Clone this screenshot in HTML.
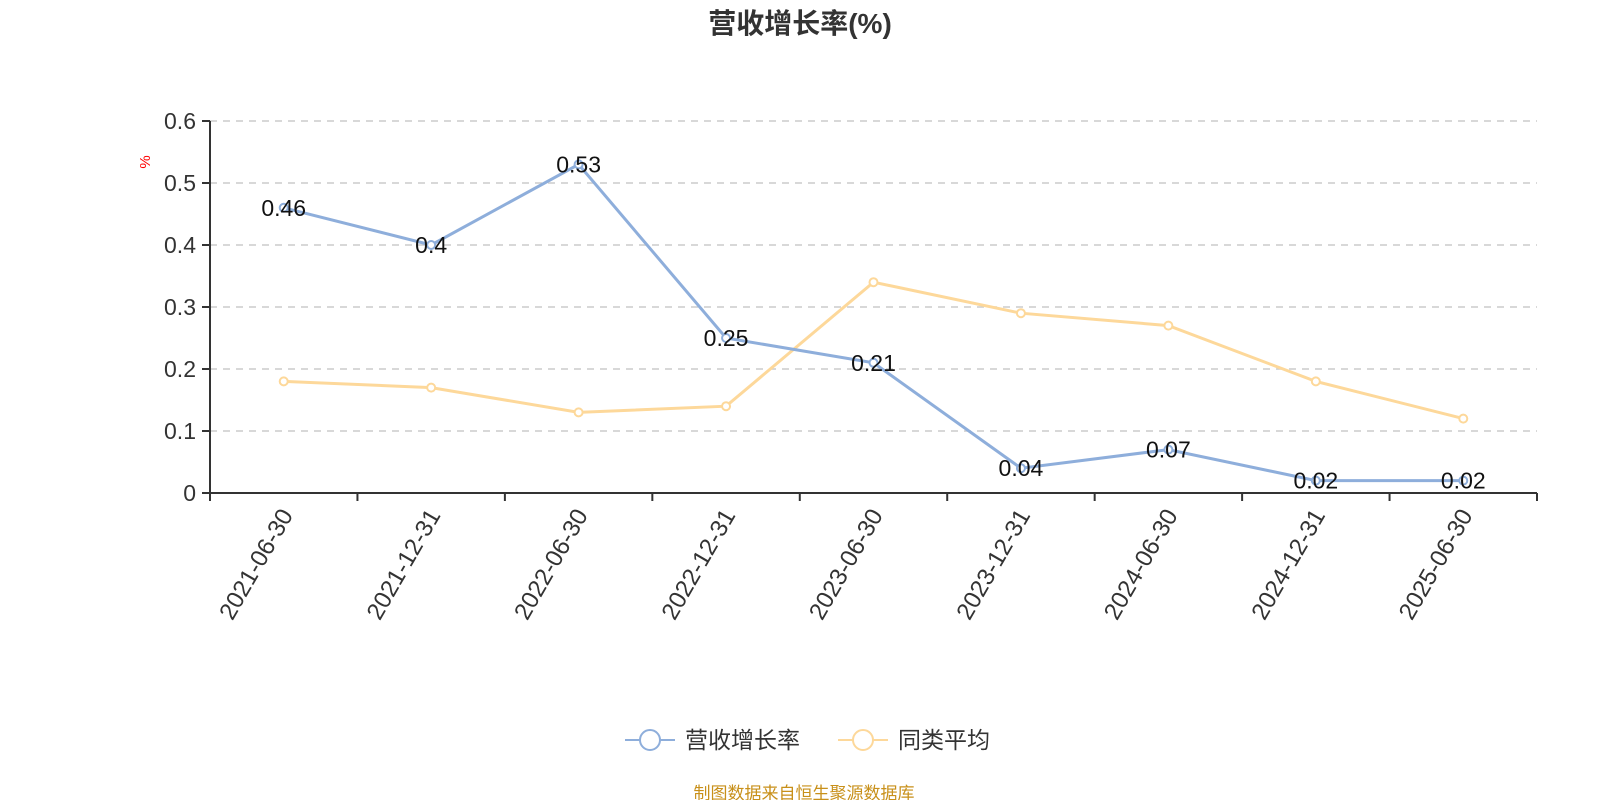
<!DOCTYPE html>
<html><head><meta charset="utf-8"><style>
body{margin:0;background:#fff;font-family:"Liberation Sans","Noto Sans CJK SC",sans-serif}
svg text{font-family:"Liberation Sans","Noto Sans CJK SC",sans-serif}
</style></head><body>
<svg id="c" width="1600" height="800" xmlns="http://www.w3.org/2000/svg">
<text x="800" y="33" text-anchor="middle" font-size="28" font-weight="bold" fill="#333">营收增长率(%)</text>
<text x="150" y="162" fill="red" font-size="15" transform="rotate(-90 150 162)" text-anchor="middle">%</text>
<g id="grid"></g><g id="axes"></g><g id="series"></g>
<g>
<g><line x1="625" y1="740" x2="675" y2="740" stroke="#8eaedb" stroke-width="2"/><circle cx="650" cy="740" r="10" fill="#fff" stroke="#8eaedb" stroke-width="2"/><text x="685" y="748" font-size="23" fill="#333">营收增长率</text></g>
<g><line x1="838" y1="740" x2="888" y2="740" stroke="#fdd89a" stroke-width="2"/><circle cx="863" cy="740" r="10" fill="#fff" stroke="#fdd89a" stroke-width="2"/><text x="898" y="748" font-size="23" fill="#333">同类平均</text></g>
</g>
<text x="804" y="799" text-anchor="middle" font-size="17" fill="#c8901a">制图数据来自恒生聚源数据库</text>
</svg>
<script>
const categories=["2021-06-30","2021-12-31","2022-06-30","2022-12-31","2023-06-30","2023-12-31","2024-06-30","2024-12-31","2025-06-30"];
const revenueGrowth=[0.46,0.4,0.53,0.25,0.21,0.04,0.07,0.02,0.02];
const peerAverage=[0.18,0.17,0.13,0.14,0.34,0.29,0.27,0.18,0.12];
const yTicks=[0,0.1,0.2,0.3,0.4,0.5,0.6];
const NS="http://www.w3.org/2000/svg";
const L=210,R=1537,T=121,B=493,yMax=0.6;
const band=(R-L)/categories.length;
const xs=i=>L+band*(i+0.5);
const ys=v=>B-(v/yMax)*(B-T);
function mk(tag,attrs,parent,txt){const e=document.createElementNS(NS,tag);for(const k in attrs)e.setAttribute(k,attrs[k]);if(txt!==undefined)e.textContent=txt;parent.appendChild(e);return e;}
const grid=document.getElementById('grid'),axes=document.getElementById('axes'),ser=document.getElementById('series');
yTicks.forEach(t=>{const y=ys(t);
 if(t>0){const g=mk('line',{x1:L,x2:R,y1:y,y2:y,stroke:'#ccc','stroke-width':1.5,'stroke-dasharray':'7,6'},grid);
 
 }
 mk('line',{x1:L-8,x2:L,y1:y,y2:y,stroke:'#333','stroke-width':2},axes);
 const tx=mk('text',{x:L-14,y:y+8,'text-anchor':'end','font-size':23,fill:'#333'},axes,String(t));
 
 
});
const ya=mk('line',{x1:L,x2:L,y1:T,y2:B,stroke:'#333','stroke-width':2},axes);


const xa=mk('line',{x1:L,x2:R,y1:B,y2:B,stroke:'#333','stroke-width':2},axes);


for(let i=0;i<=categories.length;i++){mk('line',{x1:L+band*i,x2:L+band*i,y1:B,y2:B+8,stroke:'#333','stroke-width':2},axes);}
categories.forEach((c,i)=>{const x=xs(i)+10,y=B+22;
 const t=mk('text',{x:x,y:y,'text-anchor':'end','font-size':24,fill:'#333',transform:`rotate(-60 ${x} ${y})`},axes,c);
 
 
});
function drawSeries(vals,color,name,labels){
 const p=mk('polyline',{points:vals.map((v,i)=>xs(i)+','+ys(v)).join(' '),fill:'none',stroke:color,'stroke-width':3},ser);
 
 
 vals.forEach((v,i)=>{
  const c=mk('circle',{cx:xs(i),cy:ys(v),r:4,fill:'#fff',stroke:color,'stroke-width':2},ser);
  
  
  if(labels){const t=mk('text',{x:xs(i),y:ys(v)+8,'text-anchor':'middle','font-size':23,fill:'#111'},ser,String(v));
  
  }
 });
}
drawSeries(peerAverage,'#fdd89a','peer-average',false);
drawSeries(revenueGrowth,'#8eaedb','revenue-growth',true);
</script>
</body></html>
